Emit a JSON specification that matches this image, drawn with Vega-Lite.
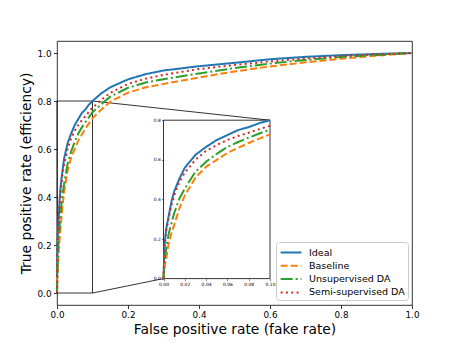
{
  "$schema": "https://vega.github.io/schema/vega-lite/v6.json",
  "width": 355,
  "height": 264,
  "autosize": "none",
  "padding": {"left": 57, "top": 41, "right": 45, "bottom": 38},
  "config": {
    "font": "DejaVu Sans",
    "view": {"stroke": "#000", "strokeWidth": 0.8},
    "axis": {"grid": false, "domain": false, "labelFlush": false, "labelOverlap": false, "tickColor": "#000", "tickWidth": 0.8, "labelColor": "#000", "titleColor": "#000", "labelFont": "DejaVu Sans", "titleFont": "DejaVu Sans", "titleFontWeight": "normal"}
  },
  "datasets": {
    "roc": [
      {"fpr": 0, "tpr": 0, "model": "Ideal"},
      {"fpr": 0.001, "tpr": 0.17, "model": "Ideal"},
      {"fpr": 0.0025, "tpr": 0.25, "model": "Ideal"},
      {"fpr": 0.005, "tpr": 0.32, "model": "Ideal"},
      {"fpr": 0.0075, "tpr": 0.39, "model": "Ideal"},
      {"fpr": 0.01, "tpr": 0.44, "model": "Ideal"},
      {"fpr": 0.015, "tpr": 0.505, "model": "Ideal"},
      {"fpr": 0.02, "tpr": 0.56, "model": "Ideal"},
      {"fpr": 0.03, "tpr": 0.625, "model": "Ideal"},
      {"fpr": 0.04, "tpr": 0.665, "model": "Ideal"},
      {"fpr": 0.05, "tpr": 0.7, "model": "Ideal"},
      {"fpr": 0.06, "tpr": 0.725, "model": "Ideal"},
      {"fpr": 0.07, "tpr": 0.75, "model": "Ideal"},
      {"fpr": 0.08, "tpr": 0.765, "model": "Ideal"},
      {"fpr": 0.09, "tpr": 0.785, "model": "Ideal"},
      {"fpr": 0.1, "tpr": 0.8, "model": "Ideal"},
      {"fpr": 0.125, "tpr": 0.832, "model": "Ideal"},
      {"fpr": 0.15, "tpr": 0.857, "model": "Ideal"},
      {"fpr": 0.2, "tpr": 0.89, "model": "Ideal"},
      {"fpr": 0.25, "tpr": 0.912, "model": "Ideal"},
      {"fpr": 0.3, "tpr": 0.927, "model": "Ideal"},
      {"fpr": 0.4, "tpr": 0.945, "model": "Ideal"},
      {"fpr": 0.5, "tpr": 0.959, "model": "Ideal"},
      {"fpr": 0.6, "tpr": 0.974, "model": "Ideal"},
      {"fpr": 0.7, "tpr": 0.984, "model": "Ideal"},
      {"fpr": 0.8, "tpr": 0.991, "model": "Ideal"},
      {"fpr": 0.9, "tpr": 0.996, "model": "Ideal"},
      {"fpr": 1, "tpr": 1, "model": "Ideal"},
      {"fpr": 0, "tpr": 0, "model": "Baseline"},
      {"fpr": 0.001, "tpr": 0.06, "model": "Baseline"},
      {"fpr": 0.0025, "tpr": 0.1, "model": "Baseline"},
      {"fpr": 0.005, "tpr": 0.18, "model": "Baseline"},
      {"fpr": 0.0075, "tpr": 0.23, "model": "Baseline"},
      {"fpr": 0.01, "tpr": 0.27, "model": "Baseline"},
      {"fpr": 0.015, "tpr": 0.355, "model": "Baseline"},
      {"fpr": 0.02, "tpr": 0.42, "model": "Baseline"},
      {"fpr": 0.03, "tpr": 0.51, "model": "Baseline"},
      {"fpr": 0.04, "tpr": 0.565, "model": "Baseline"},
      {"fpr": 0.05, "tpr": 0.6, "model": "Baseline"},
      {"fpr": 0.06, "tpr": 0.635, "model": "Baseline"},
      {"fpr": 0.07, "tpr": 0.66, "model": "Baseline"},
      {"fpr": 0.08, "tpr": 0.685, "model": "Baseline"},
      {"fpr": 0.09, "tpr": 0.707, "model": "Baseline"},
      {"fpr": 0.1, "tpr": 0.728, "model": "Baseline"},
      {"fpr": 0.125, "tpr": 0.765, "model": "Baseline"},
      {"fpr": 0.15, "tpr": 0.797, "model": "Baseline"},
      {"fpr": 0.2, "tpr": 0.835, "model": "Baseline"},
      {"fpr": 0.25, "tpr": 0.857, "model": "Baseline"},
      {"fpr": 0.3, "tpr": 0.871, "model": "Baseline"},
      {"fpr": 0.4, "tpr": 0.898, "model": "Baseline"},
      {"fpr": 0.5, "tpr": 0.923, "model": "Baseline"},
      {"fpr": 0.6, "tpr": 0.944, "model": "Baseline"},
      {"fpr": 0.7, "tpr": 0.961, "model": "Baseline"},
      {"fpr": 0.8, "tpr": 0.976, "model": "Baseline"},
      {"fpr": 0.9, "tpr": 0.989, "model": "Baseline"},
      {"fpr": 1, "tpr": 1, "model": "Baseline"},
      {"fpr": 0, "tpr": 0, "model": "Unsupervised DA"},
      {"fpr": 0.001, "tpr": 0.09, "model": "Unsupervised DA"},
      {"fpr": 0.0025, "tpr": 0.15, "model": "Unsupervised DA"},
      {"fpr": 0.005, "tpr": 0.23, "model": "Unsupervised DA"},
      {"fpr": 0.0075, "tpr": 0.28, "model": "Unsupervised DA"},
      {"fpr": 0.01, "tpr": 0.33, "model": "Unsupervised DA"},
      {"fpr": 0.015, "tpr": 0.405, "model": "Unsupervised DA"},
      {"fpr": 0.02, "tpr": 0.455, "model": "Unsupervised DA"},
      {"fpr": 0.03, "tpr": 0.54, "model": "Unsupervised DA"},
      {"fpr": 0.04, "tpr": 0.59, "model": "Unsupervised DA"},
      {"fpr": 0.05, "tpr": 0.63, "model": "Unsupervised DA"},
      {"fpr": 0.06, "tpr": 0.665, "model": "Unsupervised DA"},
      {"fpr": 0.07, "tpr": 0.69, "model": "Unsupervised DA"},
      {"fpr": 0.08, "tpr": 0.712, "model": "Unsupervised DA"},
      {"fpr": 0.09, "tpr": 0.733, "model": "Unsupervised DA"},
      {"fpr": 0.1, "tpr": 0.753, "model": "Unsupervised DA"},
      {"fpr": 0.125, "tpr": 0.787, "model": "Unsupervised DA"},
      {"fpr": 0.15, "tpr": 0.818, "model": "Unsupervised DA"},
      {"fpr": 0.2, "tpr": 0.855, "model": "Unsupervised DA"},
      {"fpr": 0.25, "tpr": 0.877, "model": "Unsupervised DA"},
      {"fpr": 0.3, "tpr": 0.891, "model": "Unsupervised DA"},
      {"fpr": 0.4, "tpr": 0.915, "model": "Unsupervised DA"},
      {"fpr": 0.5, "tpr": 0.937, "model": "Unsupervised DA"},
      {"fpr": 0.6, "tpr": 0.956, "model": "Unsupervised DA"},
      {"fpr": 0.7, "tpr": 0.971, "model": "Unsupervised DA"},
      {"fpr": 0.8, "tpr": 0.983, "model": "Unsupervised DA"},
      {"fpr": 0.9, "tpr": 0.992, "model": "Unsupervised DA"},
      {"fpr": 1, "tpr": 1, "model": "Unsupervised DA"},
      {"fpr": 0, "tpr": 0, "model": "Semi-supervised DA"},
      {"fpr": 0.001, "tpr": 0.16, "model": "Semi-supervised DA"},
      {"fpr": 0.0025, "tpr": 0.24, "model": "Semi-supervised DA"},
      {"fpr": 0.005, "tpr": 0.31, "model": "Semi-supervised DA"},
      {"fpr": 0.0075, "tpr": 0.37, "model": "Semi-supervised DA"},
      {"fpr": 0.01, "tpr": 0.42, "model": "Semi-supervised DA"},
      {"fpr": 0.015, "tpr": 0.49, "model": "Semi-supervised DA"},
      {"fpr": 0.02, "tpr": 0.535, "model": "Semi-supervised DA"},
      {"fpr": 0.03, "tpr": 0.6, "model": "Semi-supervised DA"},
      {"fpr": 0.04, "tpr": 0.645, "model": "Semi-supervised DA"},
      {"fpr": 0.05, "tpr": 0.675, "model": "Semi-supervised DA"},
      {"fpr": 0.06, "tpr": 0.7, "model": "Semi-supervised DA"},
      {"fpr": 0.07, "tpr": 0.72, "model": "Semi-supervised DA"},
      {"fpr": 0.08, "tpr": 0.737, "model": "Semi-supervised DA"},
      {"fpr": 0.09, "tpr": 0.755, "model": "Semi-supervised DA"},
      {"fpr": 0.1, "tpr": 0.772, "model": "Semi-supervised DA"},
      {"fpr": 0.125, "tpr": 0.805, "model": "Semi-supervised DA"},
      {"fpr": 0.15, "tpr": 0.834, "model": "Semi-supervised DA"},
      {"fpr": 0.2, "tpr": 0.871, "model": "Semi-supervised DA"},
      {"fpr": 0.25, "tpr": 0.893, "model": "Semi-supervised DA"},
      {"fpr": 0.3, "tpr": 0.909, "model": "Semi-supervised DA"},
      {"fpr": 0.4, "tpr": 0.933, "model": "Semi-supervised DA"},
      {"fpr": 0.5, "tpr": 0.95, "model": "Semi-supervised DA"},
      {"fpr": 0.6, "tpr": 0.965, "model": "Semi-supervised DA"},
      {"fpr": 0.7, "tpr": 0.977, "model": "Semi-supervised DA"},
      {"fpr": 0.8, "tpr": 0.987, "model": "Semi-supervised DA"},
      {"fpr": 0.9, "tpr": 0.994, "model": "Semi-supervised DA"},
      {"fpr": 1, "tpr": 1, "model": "Semi-supervised DA"}
    ]
  },
  "layer": [
    {
      "layer": [
        {
          "data": {"values": [{}]},
          "mark": {"type": "rect", "fill": null, "fillOpacity": 0, "stroke": "#000", "strokeWidth": 0.8},
          "encoding": {
            "x": {"datum": 0, "type": "quantitative"},
            "x2": {"datum": 0.1},
            "y": {"datum": 0, "type": "quantitative"},
            "y2": {"datum": 0.8}
          }
        },
        {
          "data": {"values": [{}]},
          "mark": {"type": "rule", "stroke": "#000", "strokeWidth": 0.8},
          "encoding": {
            "x": {"datum": 0.1, "type": "quantitative"},
            "x2": {"datum": 0.6},
            "y": {"datum": 0.8, "type": "quantitative"},
            "y2": {"datum": 0.72}
          }
        },
        {
          "data": {"values": [{}]},
          "mark": {"type": "rule", "stroke": "#000", "strokeWidth": 0.8},
          "encoding": {
            "x": {"datum": 0.1, "type": "quantitative"},
            "x2": {"datum": 0.3},
            "y": {"datum": 0.0, "type": "quantitative"},
            "y2": {"datum": 0.06}
          }
        },
        {
          "data": {"name": "roc"},
          "mark": {"type": "line", "strokeWidth": 2},
          "encoding": {
            "x": {
              "field": "fpr", "type": "quantitative",
              "scale": {"domain": [0, 1], "nice": false, "zero": false},
              "axis": {"orient": "bottom", "values": [0, 0.2, 0.4, 0.6, 0.8, 1.0], "format": ".1f", "labelFontSize": 8.8, "tickSize": 3.5, "labelPadding": 2, "title": "False positive rate (fake rate)", "titleFontSize": 13.8, "titlePadding": 3}
            },
            "y": {
              "field": "tpr", "type": "quantitative",
              "scale": {"domain": [-0.05, 1.05], "nice": false, "zero": false},
              "axis": {"orient": "left", "values": [0, 0.2, 0.4, 0.6, 0.8, 1.0], "format": ".1f", "labelFontSize": 8.8, "tickSize": 3.5, "labelPadding": 2.5, "title": "True positive rate (efficiency)", "titleFontSize": 13.8, "titlePadding": 4}
            },
            "color": {
              "field": "model", "type": "nominal",
              "scale": {"domain": ["Ideal", "Baseline", "Unsupervised DA", "Semi-supervised DA"], "range": ["#1f77b4", "#ff7f0e", "#2ca02c", "#d62728"]},
              "legend": {"orient": "none", "legendX": 219, "legendY": 201, "title": null, "labelFontSize": 9.5, "labelColor": "#000", "symbolType": "M-0.9,0H2.3", "symbolSize": 169, "symbolStrokeWidth": 2, "rowPadding": 1.3, "padding": 3, "labelOffset": 15, "strokeColor": "#cccccc", "fillColor": "rgba(255,255,255,0.8)", "cornerRadius": 3}
            },
            "strokeDash": {
              "field": "model", "type": "nominal",
              "scale": {"domain": ["Ideal", "Baseline", "Unsupervised DA", "Semi-supervised DA"], "range": [[1, 0], [7, 3], [12, 3, 2, 3], [2, 3.3]]},
              "legend": {"orient": "none", "legendX": 219, "legendY": 201, "title": null, "labelFontSize": 9.5, "labelColor": "#000", "symbolType": "M-0.9,0H2.3", "symbolSize": 169, "symbolStrokeWidth": 2, "rowPadding": 1.3, "padding": 3, "labelOffset": 15, "strokeColor": "#cccccc", "fillColor": "rgba(255,255,255,0.8)", "cornerRadius": 3}
            }
          }
        }
      ]
    },
    {
      "layer": [
        {
          "data": {"values": [{}]},
          "mark": {"type": "rect", "fill": "#ffffff", "stroke": "#000", "strokeWidth": 0.8},
          "encoding": {
            "x": {"datum": 0, "type": "quantitative"},
            "x2": {"datum": 0.1},
            "y": {"datum": 0, "type": "quantitative"},
            "y2": {"datum": 0.8}
          }
        },
        {
          "data": {"name": "roc"},
          "transform": [{"filter": "datum.fpr <= 0.1"}],
          "mark": {"type": "line", "strokeWidth": 2},
          "encoding": {
            "x": {
              "field": "fpr", "type": "quantitative",
              "scale": {"domain": [0, 0.1], "range": [106.5, 213], "nice": false, "zero": false},
              "axis": {"orient": "bottom", "offset": -26.4, "values": [0, 0.02, 0.04, 0.06, 0.08, 0.1], "format": ".2f", "labelFontSize": 4.5, "tickSize": 2, "tickWidth": 0.5, "labelPadding": 1, "title": null}
            },
            "y": {
              "field": "tpr", "type": "quantitative",
              "scale": {"domain": [0, 0.8], "range": [237.6, 79.2], "nice": false, "zero": false},
              "axis": {"orient": "left", "offset": -106.5, "values": [0, 0.1, 0.2, 0.3, 0.4, 0.5, 0.6, 0.7, 0.8], "format": ".1f", "labelFontSize": 4.5, "tickSize": 2, "tickWidth": 0.5, "labelPadding": 1, "title": null}
            },
            "color": {"field": "model", "type": "nominal"},
            "strokeDash": {"field": "model", "type": "nominal"}
          }
        }
      ]
    }
  ],
  "resolve": {"scale": {"x": "independent", "y": "independent", "color": "shared", "strokeDash": "shared"}}
}
